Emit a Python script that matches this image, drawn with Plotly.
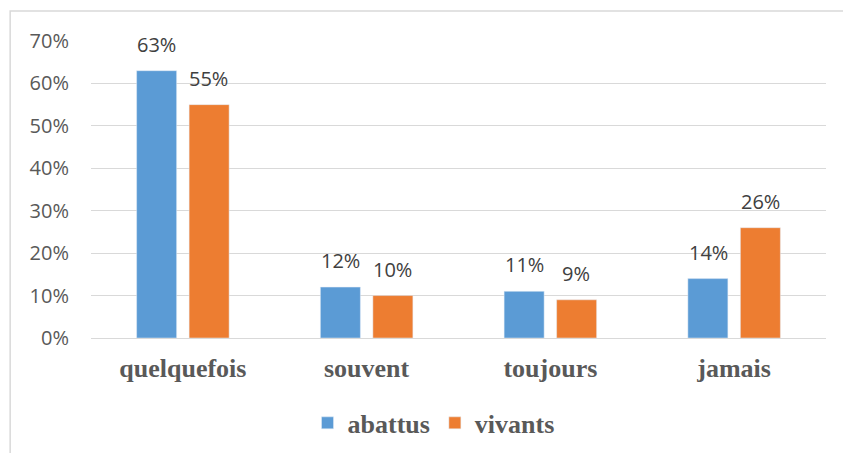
import plotly.graph_objects as go

categories = ["quelquefois", "souvent", "toujours", "jamais"]
abattus = [63, 12, 11, 14]
vivants = [55, 10, 9, 26]
series_names = ["abattus", "vivants"]
y_ticks = [0, 10, 20, 30, 40, 50, 60, 70]
y_tick_labels = [f"{v}%" for v in y_ticks]

blue = "#5b9bd5"
orange = "#ed7d31"

fig = go.Figure()
fig.add_trace(go.Bar(x=categories, y=abattus, name=series_names[0], marker_color=blue))
fig.add_trace(go.Bar(x=categories, y=vivants, name=series_names[1], marker_color=orange))

annotations = []
for vals, shift in ((abattus, -26), (vivants, 26)):
    for c, v in zip(categories, vals):
        annotations.append(dict(x=c, y=v, xref="x", yref="y", text=f"{v}%", showarrow=False,
                                yanchor="bottom", yshift=11, xshift=shift,
                                font=dict(family="Open Sans", size=20, color="#404040")))

fig.update_layout(
    width=843, height=453,
    margin=dict(l=91, r=17, t=41, b=115, autoexpand=False),
    paper_bgcolor="white", plot_bgcolor="white",
    barmode="group", bargap=0.4286, bargroupgap=0.238,
    annotations=annotations,
    showlegend=True,
    legend=dict(orientation="h", x=0.466, xanchor="center", y=-0.286, yanchor="middle",
                font=dict(family="Liberation Serif", size=26, color="#595959", weight="bold"),
                itemwidth=30, traceorder="normal"),
    shapes=[dict(type="rect", xref="paper", yref="paper", x0=-0.110, x1=1.04, y0=-0.45, y1=1.101,
                 line=dict(color="#d9d9d9", width=1.5), fillcolor="rgba(0,0,0,0)", layer="below")],
)
fig.update_xaxes(showgrid=False, showline=True, linecolor="#d9d9d9", linewidth=1,
                 tickfont=dict(family="Liberation Serif", size=26, color="#595959", weight="bold"),
                 ticklabelstandoff=7, ticks="", automargin=False)
fig.update_yaxes(range=[0, 70], tickvals=y_ticks, ticktext=y_tick_labels,
                 showgrid=True, gridcolor="#d9d9d9", gridwidth=1, zeroline=False,
                 tickfont=dict(family="Open Sans", size=20, color="#595959"),
                 ticklabelstandoff=21, showline=False, automargin=False)

fig.write_html("out.html", config={"displayModeBar": False},
               post_script="document.body.style.margin='0';")
